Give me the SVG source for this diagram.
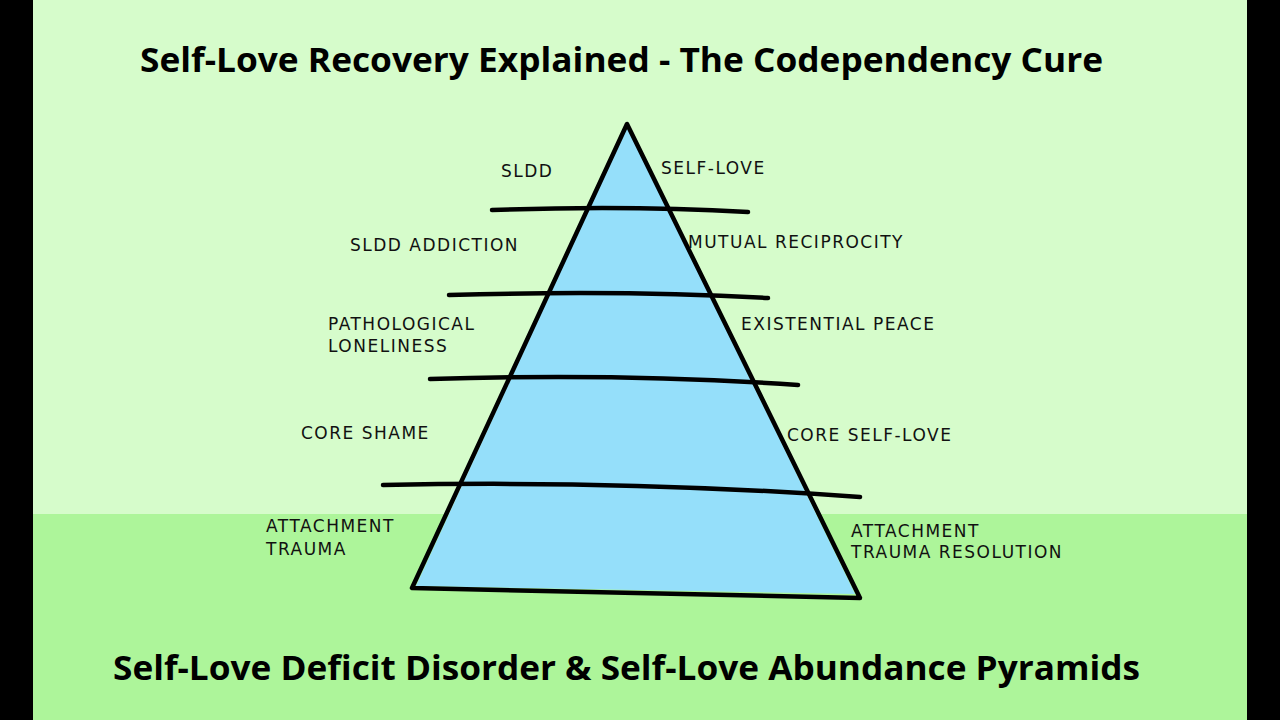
<svg xmlns="http://www.w3.org/2000/svg" width="1280" height="720" viewBox="0 0 1280 720">
<style>
.t{font-family:"Open Sans","Liberation Sans",sans-serif;font-weight:bold;fill:#000}
.l{font-family:"DejaVu Sans","Liberation Sans",sans-serif;font-size:17px;letter-spacing:1.5px;fill:#111;font-weight:500}
.ln{stroke:#000;stroke-width:4.5;fill:none;stroke-linecap:round;stroke-linejoin:round}
</style>
<rect x="0" y="0" width="1280" height="720" fill="#000"/>
<rect x="33" y="0" width="1214" height="514" fill="#d6fccb"/>
<rect x="33" y="514" width="1214" height="206" fill="#adf59a"/>
<g id="pyramid">
<polygon points="627,126 416,586 855,594" fill="#95dffa"/>
<path class="ln" d="M627,124 L412,588 L860,598 Z"/>
</g>
<g id="connectors">
<path class="ln" d="M492,210 Q627,205 748,212"/>
<path class="ln" d="M449,295 Q627,290 768,298"/>
<path class="ln" d="M430,379 Q627,373 798,385"/>
<path class="ln" d="M383,485 Q627,480 860,497"/>
</g>
<text class="t" x="140" y="72" font-size="34" textLength="963" lengthAdjust="spacingAndGlyphs">Self-Love Recovery Explained - The Codependency Cure</text>
<text class="t" x="113" y="680" font-size="34" textLength="1027" lengthAdjust="spacingAndGlyphs">Self-Love Deficit Disorder &amp; Self-Love Abundance Pyramids</text>
<g id="left-labels">
<text class="l" x="501" y="177">SLDD</text>
<text class="l" x="350" y="251">SLDD ADDICTION</text>
<text class="l" x="328" y="330">PATHOLOGICAL</text>
<text class="l" x="328" y="352">LONELINESS</text>
<text class="l" x="301" y="439">CORE SHAME</text>
<text class="l" x="266" y="532">ATTACHMENT</text>
<text class="l" x="266" y="555">TRAUMA</text>
</g>
<g id="right-labels">
<text class="l" x="661" y="174">SELF-LOVE</text>
<text class="l" x="688" y="248">MUTUAL RECIPROCITY</text>
<text class="l" x="741" y="330">EXISTENTIAL PEACE</text>
<text class="l" x="787" y="441">CORE SELF-LOVE</text>
<text class="l" x="851" y="537">ATTACHMENT</text>
<text class="l" x="851" y="558">TRAUMA RESOLUTION</text>
</g>
</svg>
